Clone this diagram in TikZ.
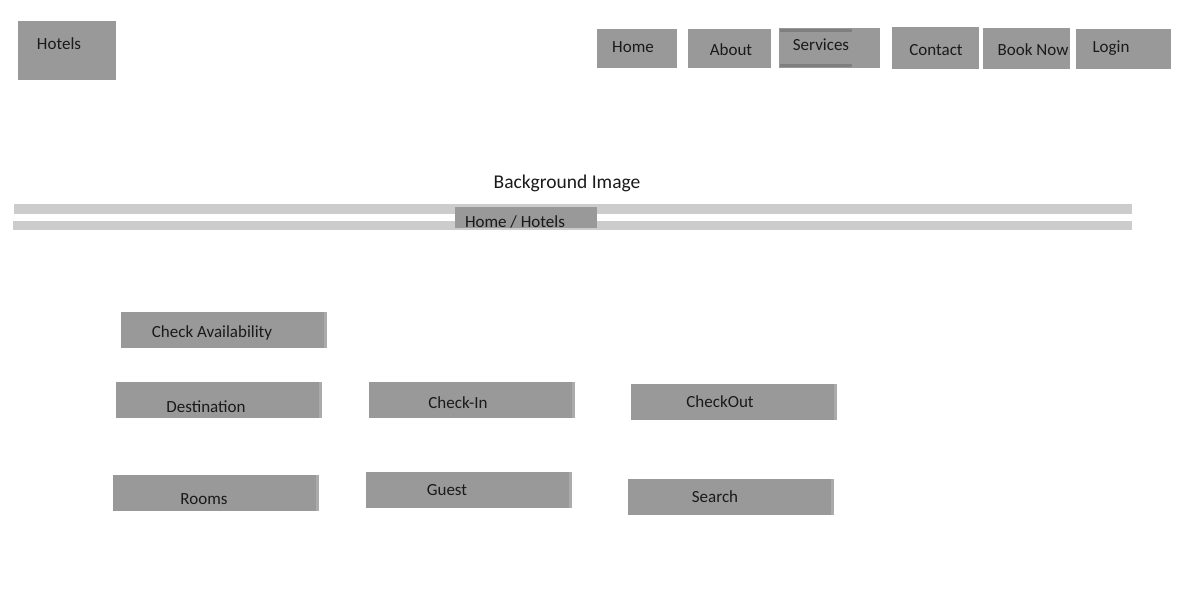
\documentclass[tikz,border=0pt]{standalone}
\usepackage{fontspec}
\setmainfont{Carlito}
\usetikzlibrary{positioning}
\definecolor{boxgray}{HTML}{999999}
\definecolor{edgegray}{HTML}{ABABAB}
\definecolor{bargray}{HTML}{CCCCCC}
\definecolor{linegray}{HTML}{7F7F7F}
\definecolor{txtgray}{HTML}{1A1A1A}
\tikzset{
  navbox/.style={fill=boxgray,inner sep=0pt},
  formbox/.style={fill=boxgray,inner sep=0pt,minimum width=206pt,minimum height=36pt,
    path picture={\fill[edgegray] ([xshift=-3pt]path picture bounding box.north east)
      rectangle (path picture bounding box.south east);}},
  lbl/.style={inner sep=0pt,text=txtgray,xshift=1pt,yshift=-1pt,font=\fontsize{17}{20}\selectfont}
}
\begin{document}
\begin{tikzpicture}[x=1pt,y=-1pt]
\useasboundingbox[fill=white] (0,0) rectangle (1190,597);

% top bar
\node [navbox,minimum width=98pt,minimum height=59pt] (hotels) at (67,50.5) {};
\node [lbl] (hotelst) at (58,43) {Hotels};

\node [navbox,minimum width=80pt,minimum height=39pt] (home) at (637,48.5) {};
\node [lbl] (homet) at (632,46) {Home};
\node [navbox,minimum width=83pt,minimum height=39pt] (about) at (729.5,48.5) {};
\node [lbl] (aboutt) at (730,49) {About};
\node [navbox,minimum width=101pt,minimum height=40pt] (services) at (829.5,48) {};
\draw [linegray,line width=3pt] (services.north west) ++(1,3) coordinate (svtop) -- ++(72,0);
\draw [linegray,line width=3pt] (services.south west) ++(1,-3) coordinate (svbot) -- ++(72,0);
\node [lbl] (servicest) at (820,44) {Services};
\node [navbox,minimum width=87pt,minimum height=42pt] (contact) at (935.5,48) {};
\node [lbl] (contactt) at (935,49) {Contact};
\node [navbox,minimum width=87pt,minimum height=41pt] (booknow) at (1026.5,48.5) {};
\node [lbl] (booknowt) at (1032,49) {Book Now};
\node [navbox,minimum width=95pt,minimum height=40pt] (login) at (1123.5,49) {};
\node [lbl] (logint) at (1110,47) {Login};

% banner
\node [lbl,font=\fontsize{19.5}{22}\selectfont] (bgimage) at (566,182) {Background Image};
\fill [bargray] (14,204) rectangle (1132,214);
\fill [bargray] (13,221) rectangle (1132,230);
\node [navbox,minimum width=142pt,minimum height=21pt] (crumb) at (526,217.5) {};
\node [lbl] (crumbt) at (514,221) {Home / Hotels};

% booking form
\node [formbox] (check) at (224,330) {};
\node [lbl] (checkt) at (211,332) {Check Availability};

\node [formbox] (dest) at (219,400) {};
\node [lbl] (destt) at (205,406) {Destination};
\node [formbox] (checkin) at (472,400) {};
\node [lbl] (checkint) at (457,402) {Check-In};
\node [formbox] (checkout) at (734,402) {};
\node [lbl] (checkoutt) at (719,401) {CheckOut};

\node [formbox] (rooms) at (216,493) {};
\node [lbl] (roomst) at (203,498) {Rooms};
\node [formbox] (guest) at (469,490) {};
\node [lbl] (guestt) at (446,489) {Guest};
\node [formbox] (search) at (731,497) {};
\node [lbl] (searcht) at (714,496) {Search};
\end{tikzpicture}
\end{document}
